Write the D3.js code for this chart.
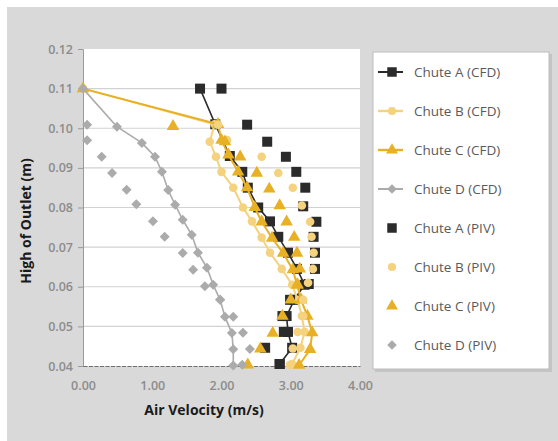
<!DOCTYPE html>
<html><head><meta charset="utf-8">
<script src="https://cdn.jsdelivr.net/npm/d3@7"></script>
<style>
html,body{margin:0;padding:0;background:#fff;}
svg{display:block;font-family:"Open Sans","Noto Sans",sans-serif;}
</style></head>
<body><svg id="c" width="558" height="441"></svg>
<script>
// ---- data ----
const xTicks = [0, 1, 2, 3, 4];
const yTicks = [0.04, 0.05, 0.06, 0.07, 0.08, 0.09, 0.10, 0.11, 0.12];

const cfdA = [[1.69,0.110],[1.91,0.101],[2.12,0.093],[2.30,0.089],[2.38,0.085],[2.53,0.080],[2.70,0.0765],[2.82,0.0726],[2.96,0.0686],[3.09,0.0645],[3.20,0.0605],[3.05,0.0567],[2.94,0.0526],[2.96,0.0486],[3.02,0.0446],[2.84,0.0405]];
const cfdB = [[0,0.110],[1.90,0.101],[1.83,0.0966],[1.92,0.0928],[2.00,0.089],[2.17,0.085],[2.31,0.080],[2.44,0.0765],[2.58,0.0724],[2.70,0.0686],[2.87,0.0645],[3.02,0.0605],[3.10,0.0567],[3.16,0.0526],[3.20,0.0486],[3.14,0.0446],[3.02,0.0405]];
const cfdC = [[0,0.110],[1.95,0.101],[2.00,0.097],[2.10,0.0933],[2.24,0.089],[2.37,0.085],[2.48,0.080],[2.58,0.0764],[2.73,0.0723],[2.89,0.0685],[3.03,0.0643],[3.09,0.0605],[3.15,0.0567],[3.24,0.0526],[3.31,0.0484],[3.28,0.0442],[3.12,0.0402]];
const cfdD = [[0,0.110],[0.49,0.1004],[0.85,0.0963],[1.04,0.0928],[1.14,0.089],[1.23,0.0844],[1.33,0.0807],[1.44,0.0769],[1.57,0.0731],[1.66,0.0686],[1.79,0.0648],[1.88,0.0605],[1.98,0.0567],[2.05,0.0524],[2.15,0.0483],[2.17,0.0442],[2.17,0.0401]];

const pivA = [[2.00,0.110],[2.37,0.1009],[2.66,0.0966],[2.93,0.0928],[3.08,0.089],[3.21,0.085],[3.18,0.0803],[3.37,0.0764],[3.33,0.0726],[3.35,0.0686],[3.35,0.0645],[3.26,0.0607],[2.99,0.0567],[2.88,0.0526],[2.90,0.0486],[2.63,0.0446],[2.84,0.0405]];
const pivB = [[1.95,0.1009],[2.08,0.097],[2.58,0.0928],[2.82,0.0887],[3.03,0.085],[3.16,0.0805],[3.28,0.0764],[3.30,0.0726],[3.33,0.0686],[3.32,0.0645],[3.25,0.061],[3.18,0.0567],[3.18,0.0526],[3.10,0.0486],[3.03,0.0444],[2.99,0.0403]];
const pivC = [[1.30,0.1005],[2.05,0.0966],[2.27,0.0928],[2.51,0.0887],[2.69,0.0847],[2.84,0.0805],[2.94,0.0764],[3.05,0.0725],[3.09,0.0685],[3.13,0.0645],[3.10,0.0605],[3.00,0.0567],[2.88,0.0526],[2.74,0.0483],[2.56,0.0443],[2.38,0.0403]];
const pivD = [[0.06,0.1009],[0.06,0.097],[0.27,0.0928],[0.42,0.0887],[0.63,0.0845],[0.77,0.0808],[1.01,0.0765],[1.18,0.0726],[1.44,0.0685],[1.59,0.0643],[1.76,0.0601],[1.98,0.0567],[2.17,0.0524],[2.31,0.0484],[2.41,0.0443],[2.30,0.0403]];

const seriesNames = ["Chute A (CFD)","Chute B (CFD)","Chute C (CFD)","Chute D (CFD)","Chute A (PIV)","Chute B (PIV)","Chute C (PIV)","Chute D (PIV)"];

// ---- style ----
const colA = "#2b2b2b", colB = "#f4d27e", colC = "#e8b024", colD = "#ababab";
const series = [
  {name: seriesNames[0], data: cfdA, color: colA, shape: "square", line: true, lw: 1.6},
  {name: seriesNames[1], data: cfdB, color: colB, shape: "circle", line: true, lw: 2},
  {name: seriesNames[2], data: cfdC, color: colC, shape: "triangle", line: true, lw: 2},
  {name: seriesNames[3], data: cfdD, color: colD, shape: "diamond", line: true, lw: 1.6},
  {name: seriesNames[4], data: pivA, color: colA, shape: "square", line: false},
  {name: seriesNames[5], data: pivB, color: colB, shape: "circle", line: false},
  {name: seriesNames[6], data: pivC, color: colC, shape: "triangle", line: false},
  {name: seriesNames[7], data: pivD, color: colD, shape: "diamond", line: false}
];
const symSize = {square: 100, circle: 58, triangle: 68, diamond: 50};
const symType = {square: d3.symbolSquare, circle: d3.symbolCircle, triangle: d3.symbolTriangle, diamond: d3.symbolSquare};
const symRot = {square: 0, circle: 0, triangle: 0, diamond: 45};

const svg = d3.select("#c");
svg.append("rect").attr("x",7).attr("y",7).attr("width",551).attr("height",434).attr("fill","#d9d9d9");

const x = d3.scaleLinear().domain([0,4]).range([83,360]);
const y = d3.scaleLinear().domain([0.04,0.12]).range([366,49]);

// plot area
svg.append("rect").attr("x",x(0)).attr("y",y(0.12)).attr("width",x(4)-x(0)).attr("height",y(0.04)-y(0.12)).attr("fill","#fff");

// gridlines
svg.append("g").selectAll("line").data(yTicks.filter(t=>t>0.0401 && t<0.1199)).join("line")
  .attr("x1",x(0)).attr("x2",x(4)).attr("y1",d=>y(d)).attr("y2",d=>y(d))
  .attr("stroke","#d2d2d2").attr("stroke-width",1.2);

// y axis
const yAxis = d3.axisLeft(y).tickValues(yTicks).tickFormat(d3.format(".2f")).tickSize(5).tickPadding(5);
const gy = svg.append("g").attr("transform",`translate(${x(0)},0)`).call(yAxis);
gy.select(".domain").attr("stroke","#9a9a9a");
gy.selectAll(".tick line").attr("stroke","#9a9a9a");
gy.selectAll(".tick text").attr("fill","#8c8c8c").style("font-size","12.5px").style("font-weight","600").style("font-family","'Open Sans',sans-serif");

// x axis
const xAxis = d3.axisBottom(x).tickValues(xTicks).tickFormat(d3.format(".2f")).tickSize(0).tickPadding(15);
const gx = svg.append("g").attr("transform",`translate(0,${y(0.04)})`).call(xAxis);
gx.select(".domain").attr("stroke","#6e6e6e").attr("stroke-width",1.2).attr("stroke-dasharray","4,1.5");
gx.selectAll(".tick text").attr("fill","#8c8c8c").style("font-size","12.5px").style("font-weight","600").style("font-family","'Open Sans',sans-serif");

// axis titles
svg.append("text").attr("x",204).attr("y",410).attr("dy","0.35em").attr("text-anchor","middle")
  .style("font-size","14px").style("font-weight","700").attr("fill","#1a1a1a").text("Air Velocity (m/s)");
svg.append("text").attr("transform","translate(26,221) rotate(-90)").attr("dy","0.35em").attr("text-anchor","middle")
  .style("font-size","14px").style("font-weight","700").attr("fill","#1a1a1a").text("High of Outlet (m)");

// series
const line = d3.line().x(d=>x(d[0])).y(d=>y(d[1]));
const gPlot = svg.append("g");
series.forEach(s => {
  if (s.line) {
    gPlot.append("path").datum(s.data).attr("d",line).attr("fill","none")
      .attr("stroke",s.color).attr("stroke-width",s.lw).attr("stroke-linejoin","round");
  }
  gPlot.append("g").selectAll("path").data(s.data).join("path")
    .attr("transform",d=>`translate(${x(d[0])},${y(d[1])}) rotate(${symRot[s.shape]})`)
    .attr("d",d3.symbol().type(symType[s.shape]).size(symSize[s.shape]))
    .attr("fill",s.color);
});

// legend
const lg = svg.append("g");
lg.append("rect").attr("x",375).attr("y",54).attr("width",177).attr("height",318).attr("fill","#c4c4c4");
lg.append("rect").attr("x",373).attr("y",52).attr("width",176).attr("height",317).attr("fill","#fff").attr("stroke","#bdbdbd").attr("stroke-width",1);
const ly = d3.scalePoint().domain(seriesNames).range([72,345]);
series.forEach(s => {
  const cy = ly(s.name);
  if (s.line) {
    lg.append("line").attr("x1",378).attr("x2",403).attr("y1",cy).attr("y2",cy)
      .attr("stroke",s.color).attr("stroke-width",s.lw+0.4);
  }
  lg.append("path").attr("transform",`translate(392,${cy}) rotate(${symRot[s.shape]})`)
    .attr("d",d3.symbol().type(symType[s.shape]).size(symSize[s.shape]*0.9)).attr("fill",s.color);
  lg.append("text").attr("x",414).attr("y",cy).attr("dy","0.35em")
    .style("font-size","13.5px").attr("fill","#5a5a5a").text(s.name);
});
</script></body></html>
